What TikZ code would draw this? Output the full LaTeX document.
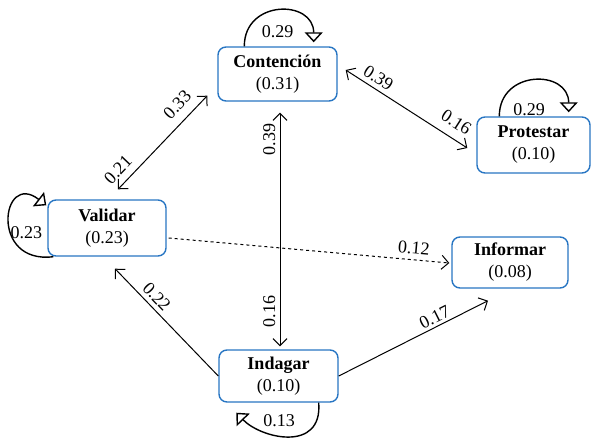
\documentclass[tikz,border=0pt]{standalone}
\usepackage{fontspec}
\setmainfont{Liberation Serif}
\usetikzlibrary{arrows.meta,calc}
\definecolor{boxblue}{RGB}{40,118,195}
\begin{document}
\begin{tikzpicture}[x=1pt,y=-1pt,
  box/.style={draw=boxblue, line width=1.4pt, rounded corners=8pt, fill=white, align=center,
    font=\fontsize{18}{22}\selectfont, inner sep=0pt},
  lab/.style={font=\fontsize{18}{20}\selectfont, inner sep=1pt},
  barb/.tip={Straight Barb[length=7pt,width=14pt]},
  one/.style={line width=1pt, -barb},
  dbl/.style={line width=1pt, barb-barb},
  selfloop/.style={line width=1.4pt, -{Triangle[open,length=10pt,width=18pt]}}
]
\useasboundingbox (0,0) rectangle (592,439);

\node[box, minimum width=119pt, minimum height=54pt] (cont) at (277.5,74) {\textbf{Contención}\\(0.31)};
\node[box, minimum width=113pt, minimum height=56pt] (prot) at (533.5,145) {\textbf{Protestar}\\(0.10)};
\node[box, minimum width=118pt, minimum height=56pt] (val) at (107,228) {\textbf{Validar}\\(0.23)};
\node[box, minimum width=116pt, minimum height=51pt] (inf) at (510,262.5) {\textbf{Informar}\\(0.08)};
\node[box, minimum width=119pt, minimum height=52pt] (ind) at (278.5,376) {\textbf{Indagar}\\(0.10)};

% Validar <-> Contencion
\draw[dbl] ($(val.north)+(11,-10)$) --
  node[lab,sloped,pos=0.11,above=6pt] (l21) {0.21}
  node[lab,sloped,pos=0.79,above=8pt] (l33) {0.33}
  ($(cont.south west)+(-10,-6)$);
% Contencion <-> Protestar
\draw[dbl] ($(cont.east)+(8,-4)$) --
  node[lab,sloped,pos=0.22,above=3.5pt] (l39a) {0.39}
  node[lab,sloped,pos=0.84,above=8pt] (l16a) {0.16}
  ($(prot.west)+(-9,3)$);
% Indagar <-> Contencion
\draw[dbl] ($(ind.north)+(1.5,-3)$) --
  node[lab,sloped,pos=0.15,above=3pt] (l16b) {0.16}
  node[lab,sloped,pos=0.885,above=3pt] (l39b) {0.39}
  ($(cont.south)+(2.5,11)$);
% Validar -> Informar (dashed)
\draw[one, dashed] ($(val.east)+(2,10)$) --
  node[lab,sloped,pos=0.87,above=4pt] (l12) {0.12}
  ($(inf.west)+(-2,0.5)$);
% Indagar -> Validar
\draw[one] (ind.west) --
  node[lab,sloped,pos=0.67,above=3pt] (l22) {0.22}
  ($(val.south)+(8,12)$);
% Indagar -> Informar
\draw[one] (ind.east) --
  node[lab,sloped,pos=0.67,above=1.5pt] (l17) {0.17}
  ($(inf.south)+(-22,12)$);

% self loops
\draw[selfloop] ($(cont.north west)+(27,0)$) .. controls +(0,-47) and +(0,-43) .. ($(cont.north east)+(-24,-4)$);
\node[lab] (l29a) at ($(cont.north)+(0,-15)$) {0.29};

\draw[selfloop] ($(prot.north west)+(23,0)$) .. controls +(0,-47) and +(0,-43) .. ($(prot.north east)+(-22,-4)$);
\node[lab] (l29b) at ($(prot.north)+(-4.5,-7)$) {0.29};

\draw[selfloop] ($(val.south west)+(6,0)$) .. controls +(-64,8) and +(-45,-35) .. ($(val.north west)+(-1,6)$);
\node[lab] (l23) at ($(val.west)+(-21,5)$) {0.23};

\draw[selfloop] ($(ind.south east)+(-20,0)$) .. controls +(4,50) and +(25,26) .. ($(ind.south west)+(18,10)$);
\node[lab] (l13) at ($(ind.south)+(0.5,18)$) {0.13};
\end{tikzpicture}
\end{document}
